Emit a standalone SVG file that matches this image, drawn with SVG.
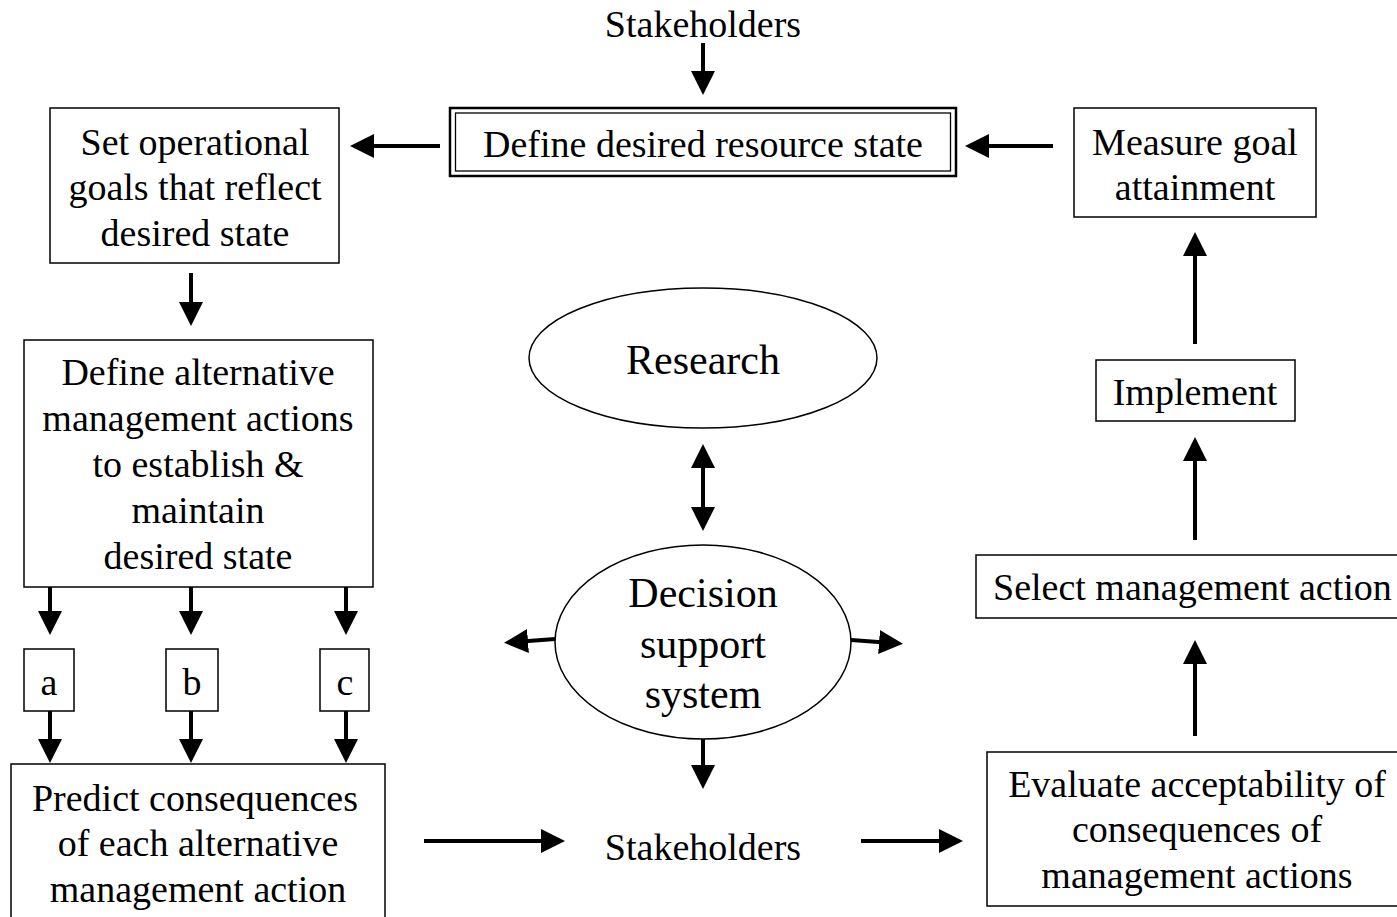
<svg xmlns="http://www.w3.org/2000/svg" width="1397" height="917" viewBox="0 0 1397 917">
<style>
.box{fill:#fff;stroke:#000;stroke-width:1.5}
.t{font-family:"Liberation Serif","Times New Roman",serif;font-size:38px;fill:#000;text-anchor:middle}
.e{font-size:42px}
.c{stroke:#000;stroke-width:4;fill:none;marker-end:url(#ah)}
.d{marker-start:url(#ah)}
</style>
<defs>
<marker id="ah" markerUnits="userSpaceOnUse" markerWidth="24" markerHeight="24" refX="13" refY="12" orient="auto-start-reverse">
<path d="M0,0 L24,12 L0,24 z" fill="#000"/>
</marker>
</defs>
<g id="stakeholders-top"><text class="t" x="703" y="37">Stakeholders</text></g>
<g id="define-desired">
<rect x="450" y="108" width="506" height="68" fill="#fff" stroke="#000" stroke-width="2.5"/>
<rect x="455.5" y="113" width="495" height="58" fill="none" stroke="#000" stroke-width="1.3"/>
<text class="t" x="703" y="157">Define desired resource state</text>
</g>
<g id="set-goals">
<rect class="box" x="50" y="108" width="289" height="155"/>
<text class="t" x="195" y="155">Set operational</text>
<text class="t" x="195" y="200">goals that reflect</text>
<text class="t" x="195" y="246">desired state</text>
</g>
<g id="measure">
<rect class="box" x="1074" y="108" width="242" height="109"/>
<text class="t" x="1195" y="155">Measure goal</text>
<text class="t" x="1195" y="200">attainment</text>
</g>
<g id="define-alt">
<rect class="box" x="24" y="340" width="349" height="247"/>
<text class="t" x="198" y="385">Define alternative</text>
<text class="t" x="198" y="431">management actions</text>
<text class="t" x="198" y="477">to establish &amp;</text>
<text class="t" x="198" y="523">maintain</text>
<text class="t" x="198" y="569">desired state</text>
</g>
<g id="alt-a"><rect class="box" x="24" y="649" width="50" height="62"/><text class="t" x="49" y="695">a</text></g>
<g id="alt-b"><rect class="box" x="166" y="649" width="52" height="62"/><text class="t" x="192" y="695">b</text></g>
<g id="alt-c"><rect class="box" x="320" y="649" width="49" height="62"/><text class="t" x="345" y="695">c</text></g>
<g id="predict">
<rect class="box" x="11" y="764" width="374" height="160"/>
<text class="t" x="195" y="811">Predict consequences</text>
<text class="t" x="198" y="856">of each alternative</text>
<text class="t" x="198" y="902">management action</text>
</g>
<g id="research">
<ellipse cx="703" cy="358" rx="174" ry="70" fill="#fff" stroke="#000" stroke-width="1.5"/>
<text class="t e" x="703" y="374">Research</text>
</g>
<g id="dss">
<ellipse cx="703" cy="642" rx="148" ry="97" fill="#fff" stroke="#000" stroke-width="1.5"/>
<text class="t e" x="703" y="607">Decision</text>
<text class="t e" x="703" y="658">support</text>
<text class="t e" x="703" y="708">system</text>
</g>
<g id="stakeholders-bottom"><text class="t" x="703" y="860">Stakeholders</text></g>
<g id="evaluate">
<rect class="box" x="987" y="752" width="420" height="154"/>
<text class="t" x="1197" y="797">Evaluate acceptability of</text>
<text class="t" x="1197" y="842">consequences of</text>
<text class="t" x="1197" y="888">management actions</text>
</g>
<g id="select">
<rect class="box" x="976" y="555" width="430" height="63"/>
<text class="t" x="993" y="600" style="text-anchor:start">Select management action</text>
</g>
<g id="implement">
<rect class="box" x="1096" y="360" width="199" height="61"/>
<text class="t" x="1195" y="405">Implement</text>
</g>
<g id="connectors">
<line class="c" x1="703" y1="43" x2="703" y2="84"/>
<line class="c" x1="440" y1="146" x2="361" y2="146"/>
<line class="c" x1="1053" y1="146" x2="976" y2="146"/>
<line class="c" x1="191" y1="273" x2="191" y2="315"/>
<line class="c" x1="50" y1="587" x2="50" y2="624"/>
<line class="c" x1="191" y1="587" x2="191" y2="624"/>
<line class="c" x1="346" y1="587" x2="346" y2="624"/>
<line class="c" x1="50" y1="711" x2="50" y2="752"/>
<line class="c" x1="191" y1="711" x2="191" y2="752"/>
<line class="c" x1="346" y1="711" x2="346" y2="752"/>
<line class="c d" x1="703" y1="455" x2="703" y2="520"/>
<line class="c" x1="555" y1="639" x2="515" y2="642"/>
<line class="c" x1="851" y1="640" x2="892" y2="643"/>
<line class="c" x1="703" y1="739" x2="703" y2="778"/>
<line class="c" x1="424" y1="841" x2="554" y2="841"/>
<line class="c" x1="861" y1="841" x2="952" y2="841"/>
<line class="c" x1="1195" y1="736" x2="1195" y2="651"/>
<line class="c" x1="1195" y1="540" x2="1195" y2="448"/>
<line class="c" x1="1195" y1="344" x2="1195" y2="243"/>
</g>
</svg>
